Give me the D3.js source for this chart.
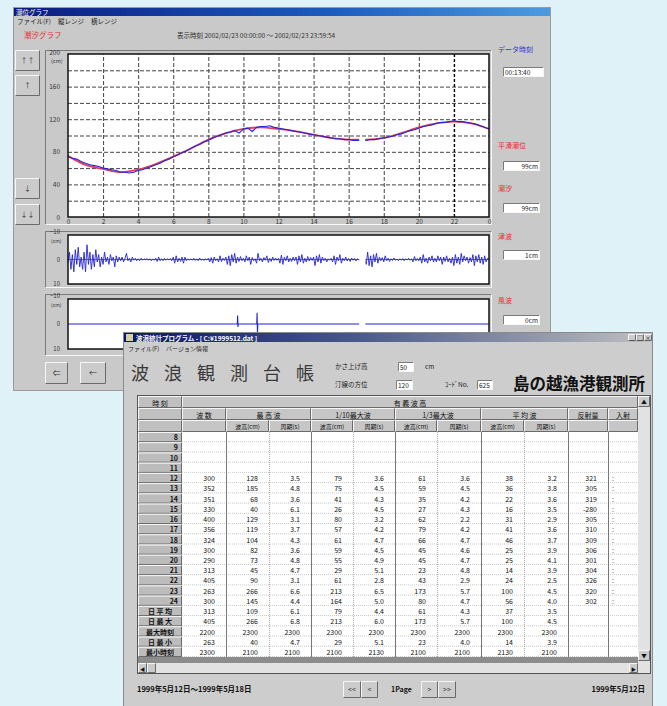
<!DOCTYPE html>
<html>
<head>
<meta charset="utf-8">
<script src="https://cdn.jsdelivr.net/npm/d3@7"></script>
<style>
body { margin: 0; background: #def2f8; }
svg { display: block; }
text { font-family: "Noto Sans CJK JP", "DejaVu Sans", sans-serif; }
</style>
</head>
<body>
<svg id="chart" width="667" height="706"></svg>
<script>
// ---- data ----
var hourTicks = [0, 2, 4, 6, 8, 10, 12, 14, 16, 18, 20, 22, 24];
var hourLabels = ["0", "2", "4", "6", "8", "10", "12", "14", "16", "18", "20", "22", "0"];
var levelTicks = [0, 40, 80, 120, 160, 200];
var levelGrid = [20, 40, 60, 80, 100, 120, 140, 160, 180];
var cursorHour = 22;

// smoothed tide (red), one value per hour, cm
var predicted = [75, 64, 59, 55, 58, 65, 74, 84, 95, 103, 108, 110, 108, 105, 101, 97, 95, 95, 97, 103, 110, 115, 117, 115, 108];
// observed tide (blue), every 15 minutes, cm
var observed = [
  74, 72, 71, 68, 66, 64, 63, 62, 60, 59, 58, 57, 55, 55, 54, 55,
  57, 58, 60, 62, 64, 66, 69, 71, 74, 76, 79, 81, 84, 87, 89, 92,
  94, 97, 99, 101, 103, 104, 106, 103, 108, 109, 105, 110, 111, 111, 112, 110,
  109, 108, 107, 106, 105, 104, 103, 102, 101, 100, 99, 98, 97, 96, 96, 95,
  95, 94, 94, 94, 94, 95, 95, 96, 97, 98, 99, 101, 102, 104, 106, 107,
  109, 111, 112, 113, 115, 116, 116, 117, 118, 117, 117, 116, 115, 114, 112, 110,
  108];
// missing record (hours)
var missingFrom = 16.6, missingTo = 16.95;

// tsunami component, 12 samples per hour, cm
var tsunamiTicks = [-10, 0, 10];
var tsunami = [
  1, -3, 4, -2, 5, -4, 2, -5, 3, -1, 4, -3,
  5, -6, 2, -3, 4, -2, 3, -4, 1, -2, 3, -1,
  2, -3, 1, -1, 2, -2, 0.5, -1, 3, -1.5, 1, -1,
  0.5, -1, 1, -0.5, -2.5, 0.5, -0.5, 1, -1, 0.3, -0.5, 0.5,
  -0.3, 0.5, -0.5, 0.3, -0.3, 0.2, -0.4, 0.3, -0.3, 0.5, -0.2, 0.3,
  -0.5, 0.8, -1, 0.5, -0.3, 0.5, -0.5, 0.3, -0.3, 0.2, -0.4, 0.5,
  -1, 1.5, -1.5, 1, -0.5, 0.8, -1, 1.5, -1, 0.5, -0.3, 0.3,
  -0.3, 0.3, -0.5, 0.4, -0.3, 0.5, -0.6, 0.3, -0.2, 0.4, -0.3, 0.2,
  -0.5, 1, -0.8, 1.5, -1, 0.5, -0.3, 1, -1.5, 0.8, -0.5, 0.4,
  -1, 2, -1.5, 2.5, -2, 1, -2.5, 1.5, -1, 0.8, -1.2, 0.5,
  -0.5, 1, -1.5, 0.5, -1, 2, -0.8, 0.5, -0.3, 1.5, -2.5, 0.5,
  -0.5, 1, -0.8, 0.3, -1.5, 1.2, -0.5, 0.8, -1, 0.4, -0.6, 0.3,
  -0.5, 1.5, -1.8, 2, -1, 0.5, -1.5, 1, -0.5, 0.8, -1, 0.5,
  -1, 2, -1.5, 1, -2, 1.5, -0.5, 1, -1.2, 0.6, -0.8, 0.4,
  -1, 2.5, -1.5, 1, -2, 1.5, -1, 0.5, -0.5, 1, -0.3, 0.3,
  -0.5, 1, -1.5, 2, -1, 0.5, -2, 1.5, -0.5, 0.5, -1, 0.6,
  -0.4, 0.8, -0.6, 0.3, -0.5, 0.6, -0.3, 0.2, 0, 0, 0, 0,
  2, -3, 2.5, -1.5, 3, -2, 1, -2.5, 1.5, -1, 0.5, -0.8,
  1, -1.5, 0.5, -0.5, 0.8, -0.3, 0.4, -0.6, 0.3, -0.2, 0.5, -0.3,
  0.3, -0.4, 0.5, -0.3, 0.2, -0.5, 0.3, -0.3, 1, -1.2, 0.5, -0.4,
  0.5, -1, 1.5, -2, 1, -0.5, 1.5, -1, 0.5, -1.5, 1, -0.5,
  1, -1.5, 0.5, -1, 2, -1, 0.8, -1.5, 1, -0.5, 1.5, -1,
  2.5, -2, 1.5, -1, 2, -2.5, 1, -1.5, 0.5, -1, 1.5, -0.8,
  1, -2, 2.5, -1.5, 1, -2, 1.5, -1, 2, -1.5, 1, -0.5,
  0];
// wind wave component: [hour, cm]
var windWave = [[0, 0], [9.65, 0], [9.67, -3.4], [9.69, 1.2], [9.71, 0],
  [10.76, 0], [10.78, -4.5], [10.8, 3.7], [10.82, 0], [24, 0]];

var sideLabels = ["データ時刻", "平滑潮位", "潮汐", "津波", "風波"];
var sideValues = ["00:13:40", "99cm", "99cm", "1cm", "0cm"];

// wave observation ledger
var rowLabels = ["8", "9", "10", "11", "12", "13", "14", "15", "16", "17", "18", "19", "20", "21", "22", "23", "24",
  "日 平 均", "日 最 大", "最大時刻", "日 最 小", "最小時刻"];
var waveCount = ["300", "352", "351", "330", "400", "356", "324", "300", "290", "313", "405", "263", "300", "313", "405", "2200", "263", "2300"];
var maxHeight = ["128", "185", "68", "40", "129", "119", "104", "82", "73", "45", "90", "266", "145", "109", "266", "2300", "40", "2100"];
var maxPeriod = ["3.5", "4.8", "3.6", "6.1", "3.1", "3.7", "4.3", "3.6", "4.8", "4.7", "3.1", "6.6", "4.4", "6.1", "6.8", "2300", "4.7", "2100"];
var tenthHeight = ["79", "75", "41", "26", "80", "57", "61", "59", "55", "29", "61", "213", "164", "79", "213", "2300", "29", "2100"];
var tenthPeriod = ["3.6", "4.5", "4.3", "4.5", "3.2", "4.2", "4.7", "4.5", "4.9", "5.1", "2.8", "6.5", "5.0", "4.4", "6.0", "2300", "5.1", "2130"];
var thirdHeight = ["61", "59", "35", "27", "62", "79", "66", "45", "45", "23", "43", "173", "80", "61", "173", "2300", "23", "2100"];
var thirdPeriod = ["3.6", "4.5", "4.2", "4.3", "2.2", "4.2", "4.7", "4.6", "4.7", "4.8", "2.9", "5.7", "4.7", "4.3", "5.7", "2300", "4.0", "2100"];
var meanHeight = ["38", "36", "22", "16", "31", "41", "46", "25", "25", "14", "24", "100", "56", "37", "100", "2300", "14", "2130"];
var meanPeriod = ["3.2", "3.8", "3.6", "3.5", "2.9", "3.6", "3.7", "3.9", "4.1", "3.9", "2.5", "4.5", "4.0", "3.5", "4.5", "2300", "3.9", "2100"];
var reflection = ["321", "305", "319", "-280", "305", "310", "309", "306", "301", "304", "326", "320", "302"];
var firstFilledRow = "12";

var groupHeads = ["波 数", "最 高 波", "1/10最大波", "1/3最大波", "平 均 波", "反射量", "入射"];
var subHeads = ["波高(cm)", "周期(s)"];

// ---- drawing ----
var svg = d3.select("#chart");

function txt(g, x, y, s, size, fill, anchor, weight) {
  return g.append("text").attr("x", x).attr("y", y).text(s)
    .attr("font-size", size).attr("fill", fill || "#222")
    .attr("text-anchor", anchor || "start").attr("font-weight", weight || "normal");
}

function bevel(g, x, y, w, h, sunken, fill) {
  g.append("rect").attr("x", x).attr("y", y).attr("width", w).attr("height", h).attr("fill", fill || "#c8c8c8");
  var lt = sunken ? "#7a7a7a" : "#f6f6f6", rb = sunken ? "#f6f6f6" : "#6a6a6a";
  g.append("path").attr("d", "M" + (x + .5) + "," + (y + h - .5) + "V" + (y + .5) + "H" + (x + w - .5))
    .attr("stroke", lt).attr("fill", "none");
  g.append("path").attr("d", "M" + (x + w - .5) + "," + (y + .5) + "V" + (y + h - .5) + "H" + (x + .5))
    .attr("stroke", rb).attr("fill", "none");
}

function button(g, x, y, w, h, label, size) {
  bevel(g, x, y, w, h, false, "#cbcbcb");
  txt(g, x + w / 2, y + h / 2 + size * 0.36, label, size, "#333", "middle");
}

var defs = svg.append("defs");
var g1 = defs.append("linearGradient").attr("id", "title1");
g1.append("stop").attr("offset", "0").attr("stop-color", "#0b1b80");
g1.append("stop").attr("offset", "0.6").attr("stop-color", "#1d5cc0");
g1.append("stop").attr("offset", "1").attr("stop-color", "#4c9be0");
var g2 = defs.append("linearGradient").attr("id", "title2");
g2.append("stop").attr("offset", "0").attr("stop-color", "#0a1566");
g2.append("stop").attr("offset", "0.45").attr("stop-color", "#4a5a8a");
g2.append("stop").attr("offset", "1").attr("stop-color", "#c0c0c0");

// ===== window 1 : tide graph =====
var w1 = svg.append("g");
w1.append("rect").attr("x", 13.5).attr("y", 7.5).attr("width", 537).attr("height", 383)
  .attr("fill", "#c9c9c9").attr("stroke", "#9a9a9a");
w1.append("rect").attr("x", 14).attr("y", 8).attr("width", 536).attr("height", 8).attr("fill", "url(#title1)");
txt(w1, 16, 14.5, "潮位グラフ", 6.5, "#fff");
txt(w1, 17, 23.5, "ファイル(F)", 6.5, "#222");
txt(w1, 58, 23.5, "縦レンジ", 6.5, "#222");
txt(w1, 91, 23.5, "横レンジ", 6.5, "#222");
txt(w1, 24, 38, "潮汐グラフ", 7.5, "#e83030");
txt(w1, 177, 37.5, "表示時刻 2002/02/23 00:00:00 ～ 2002/02/23 23:59:54", 6.5, "#333");

button(w1, 15, 50, 25, 21, "↑↑", 7);
button(w1, 15, 75, 25, 21, "↑", 7);
button(w1, 15, 178, 25, 21, "↓", 7);
button(w1, 15, 204, 25, 21, "↓↓", 7);
button(w1, 45, 362, 23, 22, "⇐", 8);
button(w1, 80, 362, 26, 22, "←", 8);

var x = d3.scaleLinear().domain([0, 24]).range([68, 489]);
var yTide = d3.scaleLinear().domain([0, 200]).range([217, 54]);
var yTsu = d3.scaleLinear().domain([-10, 10]).range([235, 284]);
var yWind = d3.scaleLinear().domain([-10, 10]).range([299, 349]);

// clip for the missing record
var clip = defs.append("clipPath").attr("id", "gap");
clip.append("rect").attr("x", 0).attr("y", 0).attr("width", x(missingFrom)).attr("height", 706);
clip.append("rect").attr("x", x(missingTo)).attr("y", 0).attr("width", 667 - x(missingTo)).attr("height", 706);

// panel frames
bevel(w1, 45, 50, 447, 175, true, "#c9c9c9");
bevel(w1, 45, 231, 447, 57, true, "#c9c9c9");
bevel(w1, 45, 294, 447, 62, true, "#c9c9c9");

// --- main tide panel ---
w1.append("rect").attr("x", x(0)).attr("y", yTide(200)).attr("width", x(24) - x(0)).attr("height", yTide(0) - yTide(200))
  .attr("fill", "#fff");

var gridY = w1.append("g").attr("transform", "translate(" + x(0) + ",0)")
  .call(d3.axisLeft(yTide).tickValues(levelGrid).tickSize(-(x(24) - x(0))).tickFormat(""));
gridY.select(".domain").remove();
gridY.selectAll("line").attr("stroke", "#444").attr("stroke-dasharray", "4,2");

var gridX = w1.append("g").attr("transform", "translate(0," + yTide(0) + ")")
  .call(d3.axisBottom(x).tickValues(hourTicks.slice(1, -1)).tickSize(-(yTide(0) - yTide(200))).tickFormat(""));
gridX.select(".domain").remove();
gridX.selectAll("line").attr("stroke", "#444").attr("stroke-dasharray", "4,2");
gridX.selectAll(".tick").filter(function(d) { return d === cursorHour; }).select("line")
  .attr("stroke", "#000").attr("stroke-width", 1.4).attr("stroke-dasharray", "3,2");

var tideG = w1.append("g").attr("clip-path", "url(#gap)");
tideG.append("path").datum(predicted)
  .attr("d", d3.line().x(function(d, i) { return x(i); }).y(function(d) { return yTide(d); }).curve(d3.curveMonotoneX))
  .attr("fill", "none").attr("stroke", "#e83a5c").attr("stroke-width", 1.8);
tideG.append("path").datum(observed)
  .attr("d", d3.line().x(function(d, i) { return x(i * 0.25); }).y(function(d) { return yTide(d); }))
  .attr("fill", "none").attr("stroke", "#2626d8").attr("stroke-width", 1.1);

w1.append("rect").attr("x", x(0)).attr("y", yTide(200)).attr("width", x(24) - x(0)).attr("height", yTide(0) - yTide(200))
  .attr("fill", "none").attr("stroke", "#111").attr("stroke-width", 1.5);

var axY = w1.append("g").attr("transform", "translate(" + (x(0) - 6) + ",0)")
  .call(d3.axisLeft(yTide).tickValues(levelTicks).tickSize(0).tickPadding(2));
axY.select(".domain").remove();
axY.selectAll("text").attr("font-size", 6.5).attr("fill", "#333")
  .attr("font-family", '"Noto Sans CJK JP", "DejaVu Sans", sans-serif');
axY.selectAll(".tick").filter(function(d) { return d === 200; }).select("text").attr("dy", "0.1em");
txt(w1, x(0) - 17, yTide(200) + 8.5, "(cm)", 5.5, "#333");

var axX = w1.append("g").attr("transform", "translate(0," + yTide(0) + ")")
  .call(d3.axisBottom(x).tickValues(hourTicks).tickSize(0).tickPadding(2)
    .tickFormat(function(d, i) { return hourLabels[i]; }));
axX.select(".domain").remove();
axX.selectAll("text").attr("font-size", 6.5).attr("fill", "#333")
  .attr("font-family", '"Noto Sans CJK JP", "DejaVu Sans", sans-serif');

// --- tsunami and wind panels ---
function smallPanel(yScale, drawData) {
  var top = yScale(-10), bot = yScale(10);
  w1.append("rect").attr("x", x(0)).attr("y", top).attr("width", x(24) - x(0)).attr("height", bot - top).attr("fill", "#fff");
  var g = w1.append("g").attr("clip-path", "url(#gap)");
  drawData(g);
  w1.append("rect").attr("x", x(0)).attr("y", top).attr("width", x(24) - x(0)).attr("height", bot - top)
    .attr("fill", "none").attr("stroke", "#111").attr("stroke-width", 1.5);
  var ax = w1.append("g").attr("transform", "translate(" + (x(0) - 6) + ",0)")
    .call(d3.axisLeft(yScale).tickValues(tsunamiTicks).tickSize(0).tickPadding(2));
  ax.select(".domain").remove();
  ax.selectAll("text").attr("font-size", 6).attr("fill", "#333")
    .attr("font-family", '"Noto Sans CJK JP", "DejaVu Sans", sans-serif');
  ax.selectAll(".tick").filter(function(d) { return d === -10; }).select("text").attr("dy", "-0.2em");
  ax.selectAll(".tick").filter(function(d) { return d === 10; }).select("text").attr("dy", "0.3em");
  txt(w1, x(0) - 17, top + 8, "(cm)", 5, "#333");
}

smallPanel(yTsu, function(g) {
  g.append("line").attr("x1", x(0)).attr("x2", x(24)).attr("y1", yTsu(0)).attr("y2", yTsu(0))
    .attr("stroke", "#555").attr("stroke-width", 0.8);
  g.append("path").datum(tsunami)
    .attr("d", d3.line().x(function(d, i) { return x(i * 24 / (tsunami.length - 1)); }).y(function(d) { return yTsu(d); }))
    .attr("fill", "none").attr("stroke", "#2222d8").attr("stroke-width", 0.9);
});
smallPanel(yWind, function(g) {
  g.append("path").datum(windWave)
    .attr("d", d3.line().x(function(d) { return x(d[0]); }).y(function(d) { return yWind(d[1]); }))
    .attr("fill", "none").attr("stroke", "#2222d8").attr("stroke-width", 1.1);
});

// --- right side readouts ---
var sideY = [52, 148, 191, 239, 303];
var boxY = [67, 161, 203, 250, 315];
sideLabels.forEach(function(s, i) {
  txt(w1, 498, sideY[i], s, 7, i === 0 ? "#3535d0" : "#e83030");
  var bw = i === 0 ? 41 : 37;
  bevel(w1, 503, boxY[i], bw, 10, true, "#fff");
  if (i === 0) txt(w1, 505, boxY[i] + 7.5, sideValues[i], 6.5, "#222");
  else txt(w1, 503 + bw - 2, boxY[i] + 7.5, sideValues[i], 6.5, "#222", "end");
});

// ===== window 2 : wave ledger =====
var w2 = svg.append("g");
w2.append("rect").attr("x", 123.5).attr("y", 332.5).attr("width", 529).attr("height", 380)
  .attr("fill", "#cdcdcd").attr("stroke", "#8a8a8a");
w2.append("rect").attr("x", 124).attr("y", 333).attr("width", 528).attr("height", 9).attr("fill", "url(#title2)");
w2.append("rect").attr("x", 126).attr("y", 334).attr("width", 7).attr("height", 7).attr("fill", "#d8d0a0");
txt(w2, 136, 340.5, "波浪統計プログラム - [ C:¥1999512.dat ]", 6.5, "#fff", "start", "bold");
["_", "□", "×"].forEach(function(s, i) {
  bevel(w2, 628 + i * 8, 334, 8, 7, false, "#cbcbcb");
  txt(w2, 632 + i * 8, 340, s, 5.5, "#111", "middle");
});
txt(w2, 128, 351, "ファイル(F)", 6, "#222");
txt(w2, 166, 351, "バージョン情報", 6, "#222");

"波浪観測台帳".split("").forEach(function(c, i) {
  txt(w2, 131 + i * 33, 380, c, 18, "#3a3a3a");
});
txt(w2, 335, 369, "かさ上げ高", 6.5, "#222");
bevel(w2, 398, 362, 16, 10, true, "#fff");
txt(w2, 400, 370, "50", 6.5, "#222");
txt(w2, 425, 369, "cm", 6.5, "#222");
txt(w2, 335, 387, "汀線の方位", 6.5, "#222");
bevel(w2, 396, 380, 17, 10, true, "#fff");
txt(w2, 398, 388, "120", 6.5, "#222");
txt(w2, 445, 387, "ｺｰﾄﾞNo.", 6.5, "#222");
bevel(w2, 477, 380, 16, 10, true, "#fff");
txt(w2, 479, 388, "625", 6.5, "#222");
txt(w2, 513, 390, "島の越漁港観測所", 16.5, "#111", "start", "bold");

// --- table ---
var colEdges = [138, 182, 226, 269, 311, 353, 395, 437, 481, 524, 568, 608, 638];
var groupEdges = [182, 226, 311, 395, 481, 568, 608];
var rowY = d3.scaleBand().domain(rowLabels).range([432, 657]);
var tbl = w2.append("g");
tbl.append("rect").attr("x", 137).attr("y", 395).attr("width", 514).attr("height", 279).attr("fill", "#fff");

// header cells
tbl.append("rect").attr("x", 138).attr("y", 396).attr("width", 500).attr("height", 36).attr("fill", "#c6c6c6");
bevel(tbl, 138, 396, 44, 12, false, "#c0c0c0");
txt(tbl, 160, 405.5, "時 刻", 7, "#111", "middle");
bevel(tbl, 182, 396, 456, 12, false, "#c6c6c6");
txt(tbl, 410, 405.5, "有 義 波 高", 7, "#111", "middle");
var groupSpans = [[1, 2], [2, 4], [4, 6], [6, 8], [8, 10], [10, 11], [11, 12]];
groupSpans.forEach(function(sp, i) {
  var x0 = colEdges[sp[0]], x1 = colEdges[sp[1]];
  bevel(tbl, x0, 408, x1 - x0, 12, false, "#c6c6c6");
  txt(tbl, (x0 + x1) / 2, 417.5, groupHeads[i], 7, "#111", "middle");
});
bevel(tbl, 138, 408, 44, 12, false, "#c0c0c0");
bevel(tbl, 138, 420, 44, 12, false, "#c0c0c0");
for (var c = 1; c < colEdges.length - 1; c++) {
  var xa = colEdges[c], xb = colEdges[c + 1];
  bevel(tbl, xa, 420, xb - xa, 12, false, "#c6c6c6");
  if (c >= 2 && c <= 9) txt(tbl, (xa + xb) / 2, 429, subHeads[c % 2], 6, "#111", "middle");
}

// body
var columns = [waveCount, maxHeight, maxPeriod, tenthHeight, tenthPeriod, thirdHeight, thirdPeriod, meanHeight, meanPeriod, reflection];
var offset = rowLabels.indexOf(firstFilledRow);
rowLabels.forEach(function(r, i) {
  var y0 = rowY(r), h = rowY.bandwidth();
  bevel(tbl, 138, y0, 44, h, false, "#bcbcbc");
  var isSum = i >= 17;
  if (isSum) txt(tbl, 160, y0 + h - 2, r, 7, "#111", "middle", "bold");
  else txt(tbl, 178, y0 + h - 2, r, 7, "#111", "end", "bold");
  tbl.append("line").attr("x1", 182).attr("x2", 638).attr("y1", y0 + h - .5).attr("y2", y0 + h - .5)
    .attr("stroke", "#c8c8c8").attr("stroke-dasharray", "1,1");
});
columns.forEach(function(col, ci) {
  col.forEach(function(v, k) {
    var r = rowLabels[k + offset];
    txt(tbl, colEdges[ci + 2] - 11, rowY(r) + rowY.bandwidth() - 2, v, 7, "#111", "end");
  });
});
reflection.forEach(function(v, k) {
  var r = rowLabels[k + offset];
  txt(tbl, 612, rowY(r) + rowY.bandwidth() - 2, ":", 7, "#555");
});
colEdges.slice(2, -1).forEach(function(cx) {
  var major = groupEdges.indexOf(cx) >= 0;
  tbl.append("line").attr("x1", cx + .5).attr("x2", cx + .5).attr("y1", 432).attr("y2", 657)
    .attr("stroke", major ? "#777" : "#aaa").attr("stroke-dasharray", major ? null : "1,1");
});

// under the rows, scroll bars
tbl.append("rect").attr("x", 138).attr("y", 657).attr("width", 500).attr("height", 6).attr("fill", "#8c8c8c");
tbl.append("rect").attr("x", 638).attr("y", 396).attr("width", 12).attr("height", 267).attr("fill", "#e2e2e2");
bevel(tbl, 638, 396, 12, 11, false, "#cbcbcb");
txt(tbl, 644, 404, "▲", 5.5, "#111", "middle");
bevel(tbl, 638, 650, 12, 11, false, "#cbcbcb");
txt(tbl, 644, 658, "▼", 5.5, "#111", "middle");
tbl.append("rect").attr("x", 138).attr("y", 663).attr("width", 512).attr("height", 10).attr("fill", "#e2e2e2");
bevel(tbl, 138, 663, 9, 10, false, "#cbcbcb");
txt(tbl, 142.5, 670.5, "◀", 5, "#111", "middle");
bevel(tbl, 147, 663, 9, 10, false, "#cbcbcb");
bevel(tbl, 629, 663, 9, 10, false, "#cbcbcb");
txt(tbl, 633.5, 670.5, "▶", 5, "#111", "middle");
tbl.append("rect").attr("x", 137.5).attr("y", 395.5).attr("width", 513).attr("height", 278)
  .attr("fill", "none").attr("stroke", "#555");

// status line
txt(w2, 137, 692, "1999年5月12日～1999年5月18日", 7.5, "#111", "start", "bold");
button(w2, 343, 681, 18, 17, "<<", 7);
button(w2, 361, 681, 17, 17, "<", 7);
txt(w2, 391, 692, "1Page", 7, "#111", "start", "bold");
button(w2, 421, 681, 17, 17, ">", 7);
button(w2, 438, 681, 18, 17, ">>", 7);
txt(w2, 645, 692, "1999年5月12日", 7.5, "#111", "end", "bold");
</script>
</body>
</html>
